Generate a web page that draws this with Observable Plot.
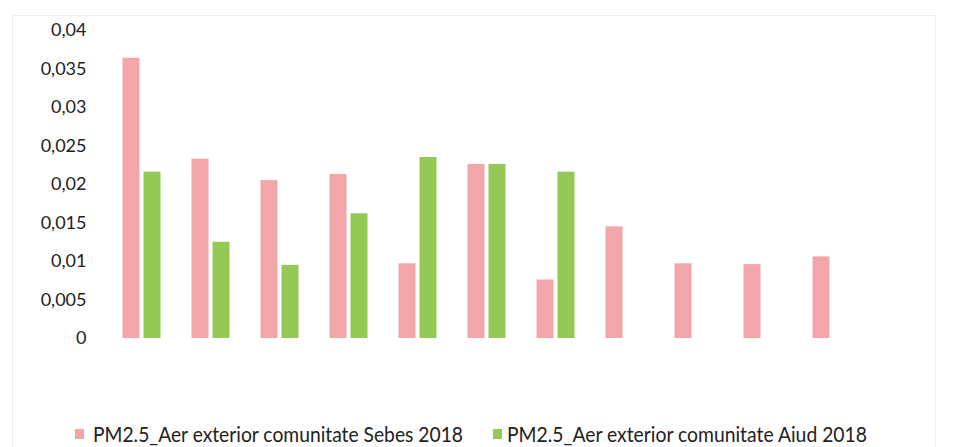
<!DOCTYPE html>
<html><head><meta charset="utf-8">
<script src="https://cdn.jsdelivr.net/npm/d3@7"></script>
<script src="https://cdn.jsdelivr.net/npm/@observablehq/plot@0.6"></script>
<style>
body{margin:0;background:#fff;}
#wrap{position:relative;width:971px;height:447px;overflow:hidden;background:#fff;}
#frame{position:absolute;left:12px;top:15px;width:922px;height:470px;border:1px solid #efefef;}
#chart{position:absolute;left:0;top:0;}
#legend{position:absolute;left:0;top:417px;}
</style></head><body>
<div id="wrap"><div id="frame"></div><div id="chart"></div><div id="legend"></div></div>
<script>
const categories = ["1","2","3","4","5","6","7","8","9","10","11"];
const sebes = [0.0364,0.0233,0.0205,0.0213,0.0097,0.0226,0.0076,0.0145,0.0097,0.0096,0.0106];
const aiud = [0.0216,0.0125,0.0095,0.0162,0.0235,0.0226,0.0216,null,null,null,null];
const seriesNames = ["PM2.5_Aer exterior comunitate Sebes 2018","PM2.5_Aer exterior comunitate Aiud 2018"];
const yTicks = [0,0.005,0.01,0.015,0.02,0.025,0.03,0.035,0.04];
const yTickLabels = ["0","0,005","0,01","0,015","0,02","0,025","0,03","0,035","0,04"];

const rows = [];
categories.forEach((c,i)=>{
  rows.push({category:c, series:seriesNames[0], value:sebes[i]});
  rows.push({category:c, series:seriesNames[1], value:aiud[i]});
});
const colorRange = ["#F2A6A9","#93C954"];

const chart = Plot.plot({
  width: 971,
  height: 417,
  marginTop: 30,
  marginBottom: 79,
  marginLeft: 105,
  marginRight: 104,
  style: {fontFamily: "Lato, sans-serif", background: "transparent"},
  x: {domain: categories, paddingInner: 0.754, paddingOuter: 0.377, axis: null},
  y: {domain: [0, 0.04], axis: null},
  color: {domain: seriesNames, range: colorRange},
  marks: [
    Plot.barY(rows.filter(d=>d.series===seriesNames[0]), {x:"category", y:"value", fill:"series", dx:-10.5}),
    Plot.barY(rows.filter(d=>d.series===seriesNames[1]), {x:"category", y:"value", fill:"series", dx:10.5}),
    Plot.axisY({ticks: yTicks, tickSize: 0, tickPadding: 19, tickFormat: (d)=>yTickLabels[yTicks.indexOf(d)], fontSize: 18, fill: "#222", label: null})
  ]
});
document.getElementById("chart").appendChild(chart);

// legend
const lg = d3.select("#legend").append("svg").attr("width",971).attr("height",30)
  .style("font-family","Lato, sans-serif");
const legendItems = [
  {name: seriesNames[0], color: colorRange[0], sx: 75, tx: 93, tl: 370},
  {name: seriesNames[1], color: colorRange[1], sx: 493, tx: 507, tl: 360}
];
legendItems.forEach(it=>{
  lg.append("rect").attr("x",it.sx).attr("y",12).attr("width",9).attr("height",10).attr("fill",it.color);
  lg.append("text").attr("x",it.tx).attr("y",25).attr("font-size",21).attr("fill","#222")
    .attr("textLength",it.tl).attr("lengthAdjust","spacingAndGlyphs").text(it.name);
});
</script>
</body></html>
